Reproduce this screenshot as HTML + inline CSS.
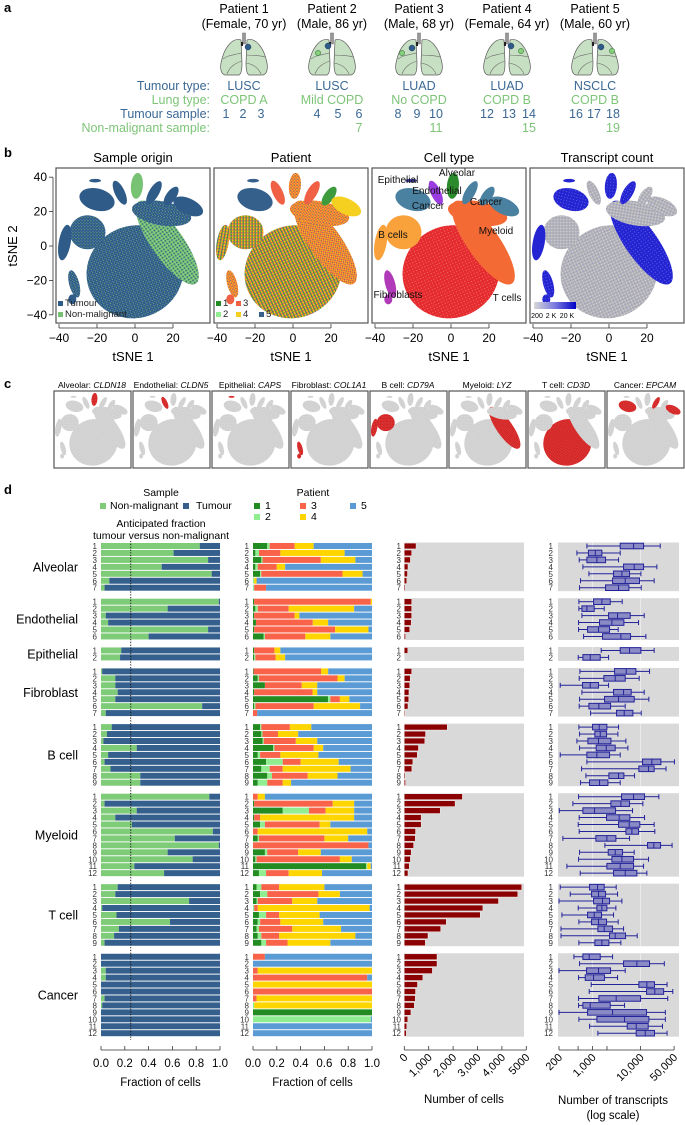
<!DOCTYPE html>
<html><head><meta charset="utf-8">
<style>
html,body{margin:0;padding:0;background:#fff}
svg{display:block;font-family:"Liberation Sans",Arial,sans-serif}
</style></head>
<body>
<svg id="fig" width="685" height="1125" viewBox="0 0 685 1125">
<defs>
<pattern id="pSO_T" width="3" height="3" patternUnits="userSpaceOnUse"><rect width="3" height="3" fill="#2f5b88"/><rect x="0" y="0" width="0.9" height="0.9" fill="#7cc576"/><rect x="2" y="1.8" width="0.7" height="0.7" fill="#8fb0d0"/></pattern>
<pattern id="pSO_M" width="3" height="3" patternUnits="userSpaceOnUse"><rect width="3" height="3" fill="#78c273"/><rect x="0" y="0" width="1.3" height="1.3" fill="#2f5b88"/><rect x="2" y="1.8" width="0.7" height="0.7" fill="#c8e8c4"/></pattern>
<pattern id="pPat" width="3" height="3" patternUnits="userSpaceOnUse"><rect width="3" height="3" fill="#f2c21c"/><rect x="0" y="0" width="1.3" height="1.3" fill="#3a6391"/><rect x="1.5" y="0" width="1.3" height="1.3" fill="#f06045"/><rect x="0" y="1.5" width="1.3" height="1.3" fill="#2e8b2e"/></pattern>
<pattern id="pPatM" width="3" height="3" patternUnits="userSpaceOnUse"><rect width="3" height="3" fill="#f06045"/><rect x="1.5" y="0" width="1.4" height="1.4" fill="#f2c21c"/><rect x="0" y="1.5" width="1.3" height="1.3" fill="#f2c21c"/><rect x="2" y="2" width="0.8" height="0.8" fill="#3a6391"/></pattern>
<pattern id="pRed" width="3" height="3" patternUnits="userSpaceOnUse"><rect width="3" height="3" fill="#e62b2e"/><rect x="2" y="2" width="0.7" height="0.7" fill="#f6b0b0"/></pattern>
<pattern id="pGray" width="3" height="3" patternUnits="userSpaceOnUse"><rect width="3" height="3" fill="#b4b4b8"/><rect x="2" y="2" width="0.7" height="0.7" fill="#ffffff"/><rect x="0.3" y="0.3" width="0.7" height="0.7" fill="#7a7ad0"/></pattern>
<pattern id="pBlue" width="3" height="3" patternUnits="userSpaceOnUse"><rect width="3" height="3" fill="#2424d2"/><rect x="2" y="2" width="0.7" height="0.7" fill="#9a9af0"/></pattern>
<pattern id="pC" width="3" height="3" patternUnits="userSpaceOnUse"><rect width="3" height="3" fill="#cfcfcf"/><rect x="2" y="2" width="0.8" height="0.8" fill="#ffffff"/></pattern>
<pattern id="pCR" width="3" height="3" patternUnits="userSpaceOnUse"><rect width="3" height="3" fill="#d42424"/><rect x="2" y="2" width="0.8" height="0.8" fill="#f4a0a0"/></pattern>
<linearGradient id="cbar" x1="0" x2="1" y1="0" y2="0"><stop offset="0" stop-color="#d8d8d8"/><stop offset="0.5" stop-color="#7a7ae0"/><stop offset="1" stop-color="#0000c8"/></linearGradient>
</defs>

<g font-size="12.5" text-anchor="middle">
  <text x="4" y="12" font-size="13" font-weight="bold" text-anchor="start">a</text>
  <text x="244" y="13">Patient 1</text>
  <text x="244" y="28">(Female, 70 yr)</text>
  <text x="332" y="13">Patient 2</text>
  <text x="332" y="28">(Male, 86 yr)</text>
  <text x="419" y="13">Patient 3</text>
  <text x="419" y="28">(Male, 68 yr)</text>
  <text x="507" y="13">Patient 4</text>
  <text x="507" y="28">(Female, 64 yr)</text>
  <text x="595" y="13">Patient 5</text>
  <text x="595" y="28">(Male, 60 yr)</text>
  <g id="lungs"></g>
  <g text-anchor="end" font-size="12.5">
    <text x="210" y="90" fill="#3b6895">Tumour type:</text>
    <text x="210" y="104" fill="#7dc478">Lung type:</text>
    <text x="210" y="118" fill="#3b6895">Tumour sample:</text>
    <text x="210" y="132" fill="#7dc478">Non-malignant sample:</text>
  </g>
  <g fill="#3b6895">
    <text x="244" y="90">LUSC</text>
    <text x="332" y="90">LUSC</text>
    <text x="419" y="90">LUAD</text>
    <text x="507" y="90">LUAD</text>
    <text x="595" y="90">NSCLC</text>
    <text x="226" y="118">1</text>
    <text x="243" y="118">2</text>
    <text x="261" y="118">3</text>
    <text x="317" y="118">4</text>
    <text x="338" y="118">5</text>
    <text x="359" y="118">6</text>
    <text x="398" y="118">8</text>
    <text x="417" y="118">9</text>
    <text x="436" y="118">10</text>
    <text x="487" y="118">12</text>
    <text x="509" y="118">13</text>
    <text x="529" y="118">14</text>
    <text x="576" y="118">16</text>
    <text x="594" y="118">17</text>
    <text x="613" y="118">18</text>
  </g>
  <g fill="#7dc478">
    <text x="244" y="104">COPD A</text>
    <text x="332" y="104">Mild COPD</text>
    <text x="419" y="104">No COPD</text>
    <text x="507" y="104">COPD B</text>
    <text x="595" y="104">COPD B</text>
    <text x="359" y="132">7</text>
    <text x="436" y="132">11</text>
    <text x="529" y="132">15</text>
    <text x="613" y="132">19</text>
  </g>
</g>

<g font-size="13" text-anchor="middle">
  <text x="4" y="157" font-weight="bold" text-anchor="start">b</text>
  <text x="133" y="162">Sample origin</text>
  <text x="291" y="162">Patient</text>
  <text x="449" y="162">Cell type</text>
  <text x="607" y="162">Transcript count</text>
  <text x="0" y="0" transform="translate(17,246) rotate(-90)">tSNE 2</text>
  <g id="tsneB"></g>
</g>

<g font-size="8.5" text-anchor="middle">
  <text x="4" y="388" font-size="13" font-weight="bold" text-anchor="start">c</text>
  <text x="92" y="388">Alveolar: <tspan font-style="italic">CLDN18</tspan></text>
  <text x="171" y="388">Endothelial: <tspan font-style="italic">CLDN5</tspan></text>
  <text x="250" y="388">Epithelial: <tspan font-style="italic">CAPS</tspan></text>
  <text x="329" y="388">Fibroblast: <tspan font-style="italic">COL1A1</tspan></text>
  <text x="408" y="388">B cell: <tspan font-style="italic">CD79A</tspan></text>
  <text x="487" y="388">Myeloid: <tspan font-style="italic">LYZ</tspan></text>
  <text x="566" y="388">T cell: <tspan font-style="italic">CD3D</tspan></text>
  <text x="645" y="388">Cancer: <tspan font-style="italic">EPCAM</tspan></text>
  <g id="tsneC"></g>
</g>

<g font-size="10.5">
  <text x="4" y="494" font-size="13" font-weight="bold">d</text>
  <text x="161" y="496" text-anchor="middle">Sample</text>
  <rect x="100" y="503" width="6" height="6" fill="#7ecb78"/>
  <text x="110" y="509">Non-malignant</text>
  <rect x="183" y="503" width="6" height="6" fill="#35608d"/>
  <text x="196" y="509">Tumour</text>
  <text x="161" y="527" text-anchor="middle">Anticipated fraction</text>
  <text x="161" y="539" text-anchor="middle">tumour versus non-malignant</text>
  <text x="313" y="496" text-anchor="middle">Patient</text>
  <rect x="254" y="503" width="6" height="6" fill="#228b22"/>
  <text x="265" y="509">1</text>
  <rect x="254" y="514" width="6" height="6" fill="#90ee90"/>
  <text x="265" y="520">2</text>
  <rect x="300" y="503" width="6" height="6" fill="#f8634a"/>
  <text x="311" y="509">3</text>
  <rect x="300" y="514" width="6" height="6" fill="#ffd500"/>
  <text x="311" y="520">4</text>
  <rect x="350" y="503" width="6" height="6" fill="#5b9bd5"/>
  <text x="361" y="509">5</text>
  <g id="dcharts"></g>
</g>
</svg>

<script>
const groups = ['Alveolar','Endothelial','Epithelial','Fibroblast','B cell','Myeloid','T cell','Cancer'];
const groupSizes = [7,6,2,7,9,12,9,12];
const nonMalignantFrac = [0.83,0.61,0.90,0.51,0.93,0.07,0.03, 0.99,0.56,0.04,0.06,0.90,0.40, 0.17,0.16, 0.01,0.12,0.12,0.14,0.12,0.85,0.04, 0.09,0.05,0.02,0.30,0.06,0.03,0.08,0.33,0.33, 0.91,0.03,0.30,0.12,0.26,0.94,0.62,0.99,0.56,0.77,0.28,0.53, 0.14,0.12,0.74,0.01,0.13,0.58,0.15,0.11,0.03, 0,0,0.04,0.04,0,0,0.03,0.01,0,0,0,0];
const patient1Share = [0.12,0.02,0.07,0.02,0.06,0,0, 0.01,0.02,0.01,0.025,0.01,0.09, 0.01,0.01, 0.005,0.04,0.10,0.01,0.63,0.01,0, 0.06,0.07,0.08,0.17,0.04,0.11,0.07,0.12,0.04, 0,0.01,0.25,0.01,0.06,0,0.04,0,0.10,0.02,0.95,0.05, 0.03,0.06,0.03,0,0.05,0.04,0.03,0.04,0.07, 0,0,0,0,0,0,0,0,1,0,0,0];
const patient2Share = [0.02,0.03,0.01,0.02,0.01,0.01,0.01, 0,0.02,0,0,0,0.01, 0,0.01, 0,0.01,0,0,0.02,0.01,0, 0.01,0.01,0.01,0.01,0.02,0.14,0.07,0.04,0.08, 0,0,0.22,0,0.04,0,0.01,0,0.02,0.01,0.01,0.06, 0.04,0.06,0.01,0.01,0.06,0.02,0.02,0.03,0.04, 0,0,0,0,0,0,0,0.01,0,0.99,0,0];
const patient3Share = [0.21,0.18,0.49,0.16,0.69,0,0.10, 0.98,0.26,0.34,0.48,0.68,0.34, 0.17,0.17, 0.57,0.66,0.31,0.49,0.08,0.49,0.035, 0.24,0.13,0.27,0.33,0.17,0.15,0.11,0.30,0.13, 0.04,0.66,0.14,0.05,0.46,0.04,0.55,0.97,0.26,0.70,0,0.19, 0.15,0.43,0.29,0.03,0.11,0.17,0.28,0.15,0.18, 0.10,0,0.04,0.96,0,1,0.03,0,0,0,0,0];
const patient4Share = [0.16,0.54,0.29,0.07,0.17,0.02,0, 0.01,0.55,0.04,0.13,0.28,0.21, 0.05,0.08, 0.06,0.06,0.13,0.04,0.08,0.39,0, 0.18,0.17,0.18,0.08,0.32,0.32,0.57,0.25,0.07, 0.06,0.18,0.24,0.79,0.09,0.92,0.20,0,0.19,0.10,0.03,0.28, 0.38,0.18,0.21,0.94,0.34,0.36,0.41,0.64,0.36, 0,0,0.96,0,1,0,0.97,0.99,0,0,0,0];
const patient5Share = [0.49,0.23,0.14,0.73,0.08,0.97,0.89, 0,0.15,0.61,0.37,0.03,0.35, 0.77,0.73, 0.37,0.23,0.46,0.46,0.19,0.10,0.965, 0.51,0.62,0.46,0.41,0.45,0.28,0.18,0.29,0.68, 0.90,0.15,0.15,0.15,0.35,0.04,0.20,0.03,0.43,0.17,0.01,0.42, 0.40,0.27,0.46,0.02,0.44,0.41,0.26,0.14,0.35, 0.90,1,0,0.04,0,0,0,0,0,0.01,1,1];
const cellCounts = [480,300,250,150,130,100,40, 300,300,300,280,220,50, 140,15, 300,240,220,190,180,150,30, 1760,870,840,580,530,350,310,40,50, 2380,2080,1470,690,690,460,450,380,280,250,200,150, 4810,4650,3860,3220,3110,1720,1490,970,860, 1340,1340,1150,760,540,460,450,410,270,140,100,80];
const whiskerLow = [762,472,527,629,839,562,536, 519,519,600,511,511,650, 1515,503, 545,527,212,600,536,527,909, 519,536,472,536,212,762,590,727,562, 511,389,203,527,503,527,241,1806,536,511,292,553, 212,343,200,503,230,519,220,220,519, 409,536,200,511,938,852,511,511,200,519,866,1291];
const quartile1 = [3768,820,762,4425,2739,2612,1865, 1049,600,2155,1398,787,1615, 3768,629, 2874,1722,619,2739,1778,839,3160, 1000,1118,800,1192,762,11005,9218,2189,866, 4020,2411,629,1957,3478,4949,1173,13975,2121,2529,1988,2739, 866,953,1049,1231,787,953,1291,2261,1118, 629,4425,750,704,9218,13320,1354,629,787,1231,5275,8118];
const medianTx = [7146,1140,1231,7379,4085,4793,3478, 1564,762,3315,2529,1333,3892, 5899,894, 5028,2965,894,4425,3478,1354,4570, 1376,1445,1333,1926,1231,17187,14662,3478,1398, 7146,3892,1101,3591,5806,6598,1988,18900,2965,4085,3768,4793, 1271,1333,1615,1564,1083,1333,1750,2965,1564, 852,8384,1333,1049,13534,19826,3110,894,2612,4642,8118,12500];
const quartile3 = [11546,1564,1865,11546,5899,9517,5714, 2335,1083,6091,4496,2261,6189, 10161,1445, 7990,4793,1333,6390,7379,2373,6922, 1988,1957,2411,2965,2261,26515,19203,4496,2090, 12114,5899,3013,5994,9671,9072,3061,26095,4218,7146,7146,8384, 1750,1865,2261,1988,1539,1957,2612,4870,2189, 1445,15383,2373,1778,19512,30263,10000,2335,13320,14898,14430,19512];
const whiskerHigh = [25700,3768,3478,21900,10161,19203,10325, 4151,1750,11922,9072,3422,12900, 19203,2155, 15383,9366,2155,11922,14898,4793,10325, 3478,3369,4949,5447,3768,50810,33955,7498,3768, 24070,11183,6812,12114,19203,19826,5899,45398,7379,14662,11546,13534, 3110,3315,4085,3061,2739,3422,4425,8519,3892, 2612,31271,4793,3315,35682,46905,36870,4642,32861,32861,28677,35682];
const fracTicks = [0,0.2,0.4,0.6,0.8,1.0];
const fracTickLabels = ['0.0','0.2','0.4','0.6','0.8','1.0'];
const countTicks = [0,1000,2000,3000,4000,5000];
const countTickLabels = ['0','1,000','2,000','3,000','4,000','5000'];
const txTicks = [200,500,1000,2000,10000,50000];
const txTickLabels = ['200','','1,000','','10,000','50,000'];
const anticipatedFraction = 0.25;

const clusterIds = ['tcell','myeloid','myeloidTop','bcell','bstrip','cancerA','epi','alv','endo','cancerB','cancerC','cancerD','fibro','smallL'];
const clusterCenterX = [0,17,14,-25,-37,-20,-21,1,-8,10,19,28,-32,-33];
const clusterCenterY = [-15,2,19,8,2,27,38,35,31,31,29,23,-22,-31];
const tsneTicks = [-40,-20,0,20];
const tsneTickLabels = ['\u221240','\u221220','0','20'];
const tsneYTicks = [40,20,0,-20,-40];
const tsneYTickLabels = ['40','20','0','\u221220','\u221240'];

const NS = 'http://www.w3.org/2000/svg';
function mk(tag, attrs, parent){
  const e = document.createElementNS(NS, tag);
  for (const k in attrs) e.setAttribute(k, attrs[k]);
  if (parent) parent.appendChild(e);
  return e;
}

(function(){
  const lg = document.getElementById('lungs');
  const centers = [244,332,419,507,595];
  const tumourDot = [[30,14],[22,13],[19,15],[30,13],[32,14]];
  const normalDot = [null,[12,20],[9,20],[40,18],[43,18]];
  centers.forEach((c,i)=>{
    const g = mk('g',{transform:`translate(${c-26},33)`},lg);
    
    
    const left = 'M23,7 C15,4 6,14 3,30 C2,36 3,41 7,42 L21,42 C23,41 24,37 24,30 Z';
    const l = mk('path',{d:left,fill:'#c7dfc2',stroke:'#5a5a5a','stroke-width':0.7},g);
    
    
    const r = mk('path',{d:left,fill:'#c7dfc2',stroke:'#5a5a5a','stroke-width':0.7,transform:'translate(52,0) scale(-1,1)'},g);
    
    
    mk('path',{d:'M5,26 C10,22 16,22 23,20 M9,41 C12,33 18,30 24,28 M47,24 C42,22 35,23 29,22 M43,41 C40,34 34,31 28,30',fill:'none',stroke:'#6a6a6a','stroke-width':0.6},g);
    mk('rect',{x:24.5,y:0,width:3,height:11,fill:'#999',stroke:'#555','stroke-width':0.4},g);
    mk('rect',{x:23,y:9,width:2,height:4,fill:'#222'},g);
    const td = mk('circle',{cx:tumourDot[i][0],cy:tumourDot[i][1],r:3,fill:'#2f5b88',stroke:'#1d3b5c','stroke-width':0.5},g);
    
    
    if (normalDot[i]){
      const nd = mk('circle',{cx:normalDot[i][0],cy:normalDot[i][1],r:2.6,fill:'#86d07e',stroke:'#3c7a38','stroke-width':0.6},g);
      
      
    }
  });
})();

const clusterShape = {
  tcell:[49,46,-25], myeloid:[50,16,55], myeloidTop:[30,12,10], bcell:[18,17,0], bstrip:[6,18,10],
  cancerA:[18,11,15], epi:[6,1.8,0], alv:[6,13,5], endo:[5,13,-25], cancerB:[5,13,30],
  cancerC:[5,11,35], cancerD:[16,8,25], fibro:[5,14,-15], smallL:[4,5,0]
};
function drawTsne(parent, L, T, s, fills, name){
  const g = mk('g',{transform:`translate(${L},${T}) scale(${s})`},parent);
  
  
  const lx = v => 3 + (v + 40) * 1.9;
  const ly = v => 78 - 1.72 * v;
  clusterIds.forEach((id,i)=>{
    const sh = clusterShape[id];
    const e = mk('ellipse',{cx:0,cy:0,rx:sh[0],ry:sh[1],fill:fills[id],
      transform:`translate(${lx(clusterCenterX[i])},${ly(clusterCenterY[i])}) rotate(${sh[2]})`},g);
    
    
  });
  return g;
}
(function(){
  const root = document.getElementById('tsneB');
  const boxL = [56,214,372,530];
  const T = 168, W = 154, H = 155;
  const P5 = '#36608c';
  const fillSets = [
    {tcell:'url(#pSO_T)',myeloid:'url(#pSO_M)',myeloidTop:'url(#pSO_T)',bcell:'url(#pSO_T)',bstrip:'#2f5b88',cancerA:'#2f5b88',epi:'#2f5b88',alv:'#78c273',endo:'#2f5b88',cancerB:'#2f5b88',cancerC:'#2f5b88',cancerD:'#2f5b88',fibro:'url(#pSO_T)',smallL:'#2f5b88'},
    {tcell:'url(#pPat)',myeloid:'url(#pPatM)',myeloidTop:'url(#pPatM)',bcell:'url(#pPat)',bstrip:'url(#pPat)',cancerA:P5,epi:P5,alv:'url(#pPatM)',endo:'#f06045',cancerB:'#f06045',cancerC:'#3d9a3d',cancerD:'#f5d020',fibro:'url(#pPatM)',smallL:'#f06045'},
    {tcell:'url(#pRed)',myeloid:'#f46a35',myeloidTop:'#f46a35',bcell:'#f9a23c',bstrip:'#f9a23c',cancerA:'#4a80a0',epi:'#3a3a9a',alv:'#2b8a2b',endo:'#9a3ce0',cancerB:'#4a80a0',cancerC:'#4a80a0',cancerD:'#4a80a0',fibro:'#b03ab8',smallL:'#b03ab8'},
    {tcell:'url(#pGray)',myeloid:'url(#pBlue)',myeloidTop:'url(#pGray)',bcell:'url(#pGray)',bstrip:'#2424d2',cancerA:'url(#pBlue)',epi:'#2424d2',alv:'url(#pBlue)',endo:'url(#pGray)',cancerB:'url(#pBlue)',cancerC:'url(#pGray)',cancerD:'url(#pGray)',fibro:'url(#pBlue)',smallL:'url(#pBlue)'}
  ];
  const plotNames = ['tsne-sample-origin','tsne-patient','tsne-cell-type','tsne-transcript-count'];
  boxL.forEach((L,k)=>{
    const cp = mk('clipPath',{id:'clipB'+k},root);
    mk('rect',{x:L,y:T,width:W,height:H},cp);
    const cg = mk('g',{'clip-path':`url(#clipB${k})`},root);
    drawTsne(cg, L, T, 1, fillSets[k], plotNames[k]);
    const frame = mk('rect',{x:L,y:T,width:W,height:H,fill:'none',stroke:'#555','stroke-width':1.2},root);
    
    
    const X = v => L + 3 + (v + 40) * 1.9;
    const ax = mk('g',{},root);
    
    
    mk('line',{x1:X(-40),x2:X(20),y1:328,y2:328,stroke:'#333','stroke-width':0.8},ax);
    tsneTicks.forEach((t,j)=>{
      mk('line',{x1:X(t),x2:X(t),y1:324,y2:328,stroke:'#333','stroke-width':0.8},ax);
      const tl = mk('text',{x:X(t),y:342,'font-size':12,'text-anchor':'middle'},ax);
      tl.textContent = tsneTickLabels[j];
      
      
    });
    const xt = mk('text',{x:L+W/2,y:361,'font-size':13,'text-anchor':'middle'},ax);
    xt.textContent = 'tSNE 1';
    
    
  });
  const Y = v => 246 - 1.72 * v;
  const ay = mk('g',{},root);
  
  
  mk('line',{x1:53,x2:53,y1:Y(40),y2:Y(-40),stroke:'#333','stroke-width':0.8},ay);
  tsneYTicks.forEach((t,j)=>{
    mk('line',{x1:49,x2:53,y1:Y(t),y2:Y(t),stroke:'#333','stroke-width':0.8},ay);
    const tl = mk('text',{x:47,y:Y(t)+4,'font-size':12,'text-anchor':'end'},ay);
    tl.textContent = tsneYTickLabels[j];
    
    
  });
  function sw(x,y,c,label,nm){
    const r = mk('rect',{x:x,y:y,width:5,height:5,fill:c},root);
    
    
    const t = mk('text',{x:x+7,y:y+5,'font-size':9.5,'text-anchor':'start',fill:'#222'},root);
    t.textContent = label;
    
    
  }
  sw(58,301,'#2f5b88','Tumour','tumour');
  sw(58,312,'#78c273','Non-malignant','non-malignant');
  sw(216,301,'#228b22','1','p1'); sw(236,301,'#f06045','3','p3');
  sw(216,312,'#90ee90','2','p2'); sw(236,312,'#f5d020','4','p4'); sw(259,312,'#36608c','5','p5');
  const lbl = [['Epithelial',398,183],['Alveolar',457,176],['Endothelial',437,194],['Cancer',428,209],['Cancer',486,205],['B cells',393,238],['Myeloid',496,234],['Fibroblasts',398,298],['T cells',507,301]];
  lbl.forEach(l=>{
    const t = mk('text',{x:l[1],y:l[2],'font-size':10,'text-anchor':'middle',fill:'#111'},root);
    t.textContent = l[0];
    
    
  });
  const cb = mk('rect',{x:534,y:302,width:42,height:7,fill:'url(#cbar)'},root);
  
  
  [['200',537],['2 K',551],['20 K',567]].forEach(l=>{
    const t = mk('text',{x:l[1],y:318,'font-size':7,'text-anchor':'middle'},root);
    t.textContent = l[0];
    
    
  });
})();

(function(){
  const root = document.getElementById('tsneC');
  const highlight = [['alv'],['endo'],['epi'],['fibro','smallL'],['bcell','bstrip'],['myeloid'],['tcell'],['cancerA','cancerB','cancerD']];
  const names = ['alveolar','endothelial','epithelial','fibroblast','b-cell','myeloid','t-cell','cancer'];
  for (let k=0;k<8;k++){
    const L = 54 + k*79, T = 391, W = 77, H = 77;
    const fills = {};
    clusterIds.forEach(id=>{ fills[id] = highlight[k].includes(id) ? 'url(#pCR)' : 'url(#pC)'; });
    const cp = mk('clipPath',{id:'clipC'+k},root);
    mk('rect',{x:L,y:T,width:W,height:H},cp);
    const cg = mk('g',{'clip-path':`url(#clipC${k})`},root);
    drawTsne(cg, L, T-0.5, 0.5, fills, 'marker-tsne-'+names[k]);
    const fr = mk('rect',{x:L,y:T,width:W,height:H,fill:'none',stroke:'#555','stroke-width':1.2},root);
    
    
  }
})();

(function(){
  const root = document.getElementById('dcharts');
  const pitch = 6.95, gapExtra = 7.05, y0 = 546;
  const rowY = [], rowGroup = [], rowIdx = [];
  let gi = 0;
  groupSizes.forEach((n,g)=>{ for(let r=0;r<n;r++){ rowY.push(y0 + gi*pitch + g*gapExtra); rowGroup.push(g); rowIdx.push(r+1); gi++; } });
  const bh = 6;
  const fx1 = v => 101 + v*119;
  const fx2 = v => 253 + v*119;
  const cx3 = v => 404.3 + v*0.0244;
  const tx4 = v => 559 + (Math.log10(v) - Math.log10(200)) * 48;
  const pCols = ['#228b22','#90ee90','#f8634a','#ffd500','#5b9bd5'];
  const shares = [patient1Share,patient2Share,patient3Share,patient4Share,patient5Share];

  let start = 0;
  groupSizes.forEach((n,g)=>{
    const yT = rowY[start]-3.5, yB = rowY[start+n-1]+3.5;
    const t = mk('text',{x:78,y:(yT+yB)/2+4.5,'font-size':12.5,'text-anchor':'end'},root);
    t.textContent = groups[g];
    
    
    const b3 = mk('rect',{x:404,y:yT,width:120,height:yB-yT,fill:'#d9d9d9'},root);
    
    
    const b4 = mk('rect',{x:558,y:yT,width:121,height:yB-yT,fill:'#d9d9d9'},root);
    
    
    [1000,10000].forEach(v=>{ mk('line',{x1:tx4(v),x2:tx4(v),y1:yT,y2:yB,stroke:'#f2f2f2','stroke-width':0.7},root); });
    start += n;
  });

  rowY.forEach((y,i)=>{
    [97,249,401,553].forEach(xr=>{
      const t = mk('text',{x:xr,y:y+3,'font-size':8,'text-anchor':'end',fill:'#333'},root);
      t.textContent = rowIdx[i];
      
      
    });
    const f = nonMalignantFrac[i];
    const g1 = mk('rect',{x:fx1(0),y:y-bh/2,width:fx1(f)-fx1(0),height:bh,fill:'#7ecb78'},root);
    
    
    const b1 = mk('rect',{x:fx1(f),y:y-bh/2,width:fx1(1)-fx1(f),height:bh,fill:'#35608d'},root);
    
    
    let tot = 0; shares.forEach(a=>tot+=a[i]);
    let acc = 0;
    shares.forEach((a,p)=>{
      const v = a[i]/tot;
      if (v<=0) return;
      const r = mk('rect',{x:fx2(acc),y:y-bh/2,width:fx2(acc+v)-fx2(acc),height:bh,fill:pCols[p]},root);
      
      
      acc += v;
    });
    const c = mk('rect',{x:cx3(0),y:y-2.9,width:cx3(cellCounts[i])-cx3(0),height:5.8,fill:'#8b0000',stroke:'#fff','stroke-width':0.4},root);
    
    
    const bx = mk('g',{},root);
    
    
    const st = {stroke:'#23239a','stroke-width':1};
    mk('line',Object.assign({x1:tx4(whiskerLow[i]),x2:tx4(quartile1[i]),y1:y,y2:y},st),bx);
    mk('line',Object.assign({x1:tx4(quartile3[i]),x2:tx4(whiskerHigh[i]),y1:y,y2:y},st),bx);
    mk('line',Object.assign({x1:tx4(whiskerLow[i]),x2:tx4(whiskerLow[i]),y1:y-2.5,y2:y+2.5},st),bx);
    mk('line',Object.assign({x1:tx4(whiskerHigh[i]),x2:tx4(whiskerHigh[i]),y1:y-2.5,y2:y+2.5},st),bx);
    mk('rect',{x:tx4(quartile1[i]),y:y-2.8,width:tx4(quartile3[i])-tx4(quartile1[i]),height:5.6,fill:'#8a8ac4',stroke:'#23239a','stroke-width':1},bx);
    mk('line',Object.assign({x1:tx4(medianTx[i]),x2:tx4(medianTx[i]),y1:y-2.8,y2:y+2.8},st),bx);
  });

  const dl = mk('line',{x1:fx1(anticipatedFraction),x2:fx1(anticipatedFraction),y1:541,y2:1040,stroke:'#111','stroke-width':0.9,'stroke-dasharray':'1.3,1.5'},root);
  
  

  function fracAxis(fx, nm){
    const g = mk('g',{},root);
    
    
    mk('line',{x1:fx(0),x2:fx(1),y1:1050,y2:1050,stroke:'#333','stroke-width':0.8},g);
    fracTicks.forEach((t,j)=>{
      mk('line',{x1:fx(t),x2:fx(t),y1:1046,y2:1050,stroke:'#333','stroke-width':0.8},g);
      const tl = mk('text',{x:fx(t),y:1067,'font-size':11.5,'text-anchor':'middle'},g);
      tl.textContent = fracTickLabels[j];
      
      
    });
    const at = mk('text',{x:(fx(0)+fx(1))/2,y:1086,'font-size':11.5,'text-anchor':'middle'},g);
    at.textContent = 'Fraction of cells';
    
    
  }
  fracAxis(fx1,'x-axis-sample-fraction');
  fracAxis(fx2,'x-axis-patient-fraction');

  const g3 = mk('g',{},root);
  
  
  mk('line',{x1:cx3(0),x2:cx3(5000),y1:1050,y2:1050,stroke:'#333','stroke-width':0.8},g3);
  countTicks.forEach((t,j)=>{
    mk('line',{x1:cx3(t),x2:cx3(t),y1:1046,y2:1050,stroke:'#333','stroke-width':0.8},g3);
    const tl = mk('text',{x:0,y:0,'font-size':11,'text-anchor':'end',transform:`translate(${cx3(t)+4},${1058}) rotate(-45)`},g3);
    tl.textContent = countTickLabels[j];
    
    
  });
  const t3 = mk('text',{x:464,y:1103,'font-size':11.5,'text-anchor':'middle'},g3);
  t3.textContent = 'Number of cells';
  
  

  const g4 = mk('g',{},root);
  
  
  mk('line',{x1:tx4(200),x2:tx4(50000),y1:1050,y2:1050,stroke:'#333','stroke-width':0.8},g4);
  txTicks.forEach((t,j)=>{
    mk('line',{x1:tx4(t),x2:tx4(t),y1:1046,y2:1050,stroke:'#333','stroke-width':0.8},g4);
    if (!txTickLabels[j]) return;
    const tl = mk('text',{x:0,y:0,'font-size':11,'text-anchor':'end',transform:`translate(${tx4(t)+4},${1058}) rotate(-45)`},g4);
    tl.textContent = txTickLabels[j];
    
    
  });
  const t4 = mk('text',{x:613,y:1104,'font-size':11.5,'text-anchor':'middle'},g4);
  t4.textContent = 'Number of transcripts';
  
  
  const t5 = mk('text',{x:613,y:1119,'font-size':11.5,'text-anchor':'middle'},g4);
  t5.textContent = '(log scale)';
  
  
})();
</script>
</body></html>
